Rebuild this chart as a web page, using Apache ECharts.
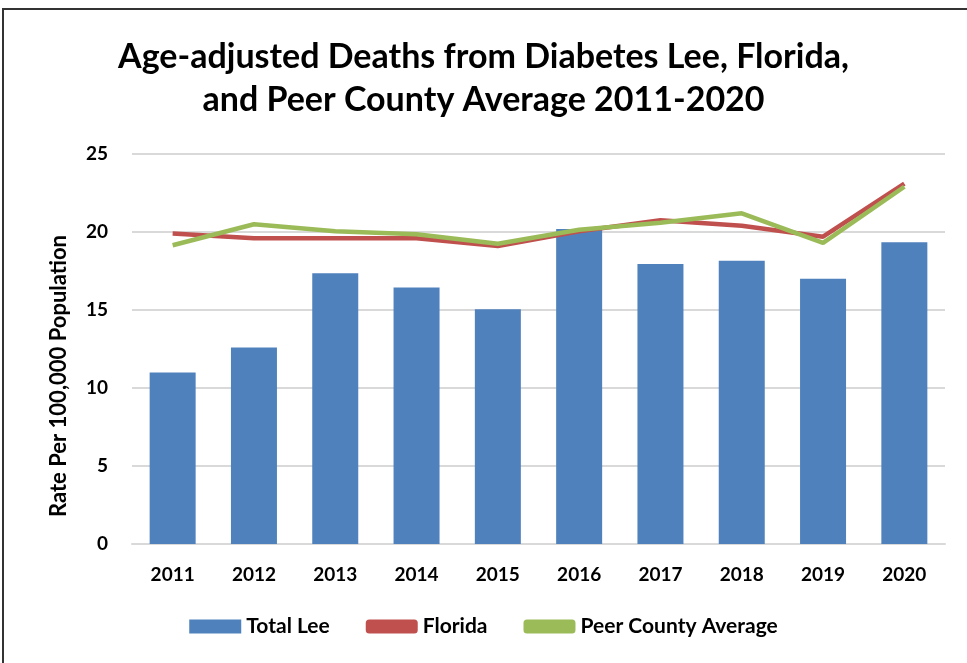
<!DOCTYPE html>
<html>
<head>
<meta charset="UTF-8">
<title>Age-adjusted Deaths from Diabetes</title>
<script src="https://cdn.jsdelivr.net/npm/echarts@6/dist/echarts.min.js"></script>
<style>
  html, body { margin: 0; padding: 0; background: #fff; }
  #frame { position: absolute; left: 2px; top: 8px; width: 965px; height: 655px;
           border-left: 2px solid #333; border-top: 2px solid #333; box-sizing: border-box; }
  #chart { position: absolute; left: 0; top: 0; width: 967px; height: 663px; }
</style>
</head>
<body>
<div id="frame"></div>
<div id="chart"></div>
<script>
var years = ['2011', '2012', '2013', '2014', '2015', '2016', '2017', '2018', '2019', '2020'];
var totalLee = [11.0, 12.6, 17.35, 16.45, 15.05, 20.2, 17.95, 18.15, 17.0, 19.35];
var florida = [19.9, 19.6, 19.6, 19.6, 19.1, 20.05, 20.75, 20.4, 19.7, 23.1];
var peerAvg = [19.15, 20.5, 20.05, 19.85, 19.25, 20.15, 20.6, 21.2, 19.3, 22.9];

var font = 'Lato, "Open Sans", sans-serif';

var chart = echarts.init(document.getElementById('chart'));
chart.setOption({
    animation: false,
    title: {
        text: 'Age-adjusted Deaths from Diabetes Lee, Florida,\nand Peer County Average 2011-2020',
        left: 'center',
        top: 31,
        textStyle: { fontFamily: font, fontSize: 34, fontWeight: 'bold', color: '#000', lineHeight: 43 }
    },
    grid: { left: 132, right: 22, top: 154, bottom: 119 },
    legend: {
        bottom: 21,
        left: 'center',
        itemWidth: 52,
        itemHeight: 14,
        itemGap: 36,
        textStyle: { fontFamily: font, fontSize: 21, fontWeight: 'bold', color: '#000' },
        data: [
            { name: 'Total Lee', icon: 'rect' },
            { name: 'Florida', icon: 'roundRect', itemStyle: { color: '#C0504D' } },
            { name: 'Peer County Average', icon: 'roundRect', itemStyle: { color: '#9BBB59' } }
        ]
    },
    xAxis: {
        type: 'category',
        data: years,
        axisTick: { show: false },
        axisLine: { lineStyle: { color: '#d9d9d9', width: 2 } },
        axisLabel: { fontFamily: font, fontSize: 19, fontWeight: 'bold', color: '#000', margin: 21 }
    },
    yAxis: {
        type: 'value',
        min: 0,
        max: 25,
        interval: 5,
        name: 'Rate Per 100,000 Population',
        nameLocation: 'middle',
        nameGap: 62,
        nameTextStyle: { fontFamily: font, fontSize: 22, fontWeight: 'bold', color: '#000', padding: [0, 54, 0, 0] },
        axisLabel: { fontFamily: font, fontSize: 19, fontWeight: 'bold', color: '#000', margin: 24 },
        splitLine: { lineStyle: { color: '#d9d9d9', width: 2 } }
    },
    series: [
        {
            name: 'Total Lee',
            type: 'bar',
            data: totalLee,
            barWidth: 46,
            itemStyle: { color: '#4F81BD' }
        },
        {
            name: 'Florida',
            type: 'line',
            data: florida,
            symbol: 'none',
            lineStyle: { color: '#C0504D', width: 4.5 },
            itemStyle: { color: '#C0504D' }
        },
        {
            name: 'Peer County Average',
            type: 'line',
            data: peerAvg,
            symbol: 'none',
            lineStyle: { color: '#9BBB59', width: 4.5 },
            itemStyle: { color: '#9BBB59' }
        }
    ]
});
</script>
</body>
</html>
